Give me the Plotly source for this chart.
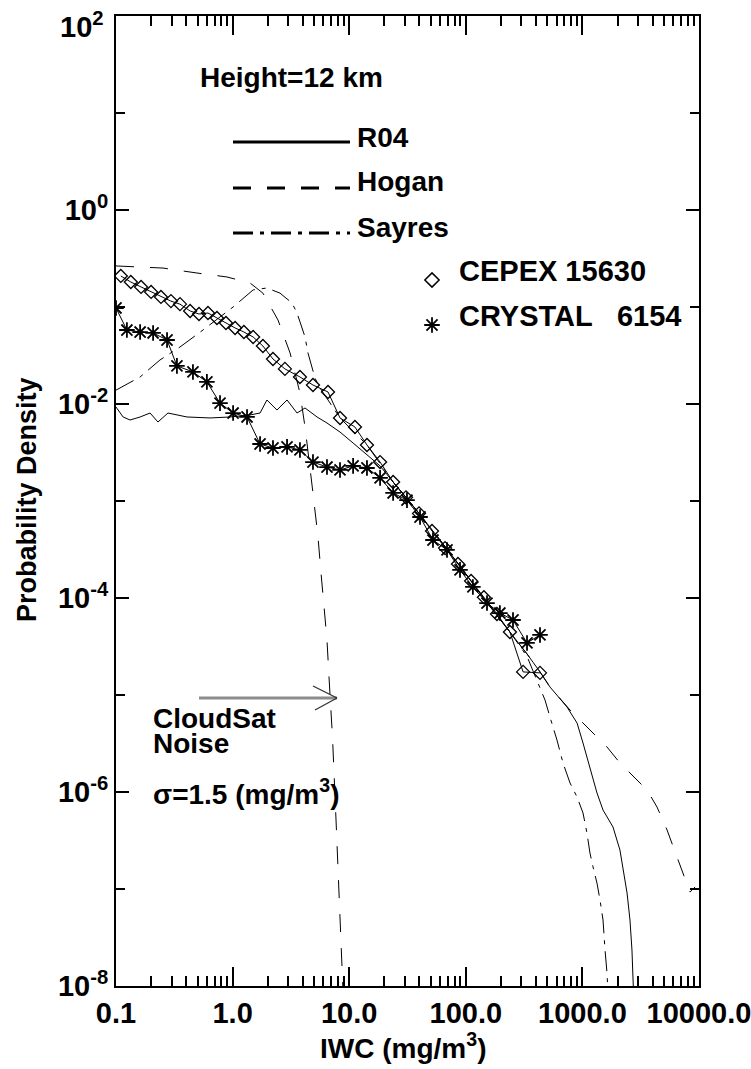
import plotly.graph_objects as go

# ---- probability density of ice water content at 12 km ----
# IWC in mg/m^3, probability density per curve

r04_iwc = [0.1, 0.115, 0.132, 0.161, 0.196, 0.229, 0.279, 0.406, 0.640, 0.951,
           1.41, 1.72, 1.97, 2.40, 2.93, 3.57, 4.18, 5.30, 6.45, 8.34,
           10.8, 14.2, 18.4, 23.8, 33.2, 52.3, 89.2, 146, 239, 335,
           433, 527, 738, 900, 1012, 1161, 1334, 1503, 1829, 2099,
           2228, 2415, 2559, 2661, 2750]
r04_pdf = [0.00931, 0.00735, 0.00684, 0.00735, 0.00807, 0.00652, 0.00807, 0.00735, 0.00718, 0.00735,
           0.00771, 0.00807, 0.0110, 0.00867, 0.0110, 0.00807, 0.00910, 0.00735, 0.00637, 0.00514,
           0.00396, 0.00298, 0.00230, 0.00157, 0.000977, 0.000491, 0.000214, 9.53e-5, 4.46e-5, 2.65e-5,
           1.73e-5, 1.21e-5, 7.52e-6, 5.14e-6, 3.20e-6, 1.81e-6, 9.77e-7, 6.52e-7, 4.36e-7, 2.52e-7,
           1.69e-7, 9.10e-8, 4.79e-8, 2.35e-8, 8e-9]

hogan_iwc = [23.8, 33.2, 52.3, 89.2, 146, 239, 335, 433, 527, 783,
             1233, 1626, 2099, 2938, 3581, 4365, 5321, 6471, 7889, 8375, 9247]
hogan_pdf = [0.00157, 0.000977, 0.000491, 0.000214, 9.53e-5, 4.46e-5, 2.65e-5, 1.73e-5, 1.21e-5, 7.00e-6,
             4.06e-6, 2.91e-6, 1.99e-6, 1.33e-6, 1.05e-6, 7.00e-7, 4.06e-7, 2.14e-7, 1.15e-7, 9.3e-8, 1.05e-7]

sayres_iwc = [0.1, 0.161, 0.238, 0.354, 0.557, 1.01, 1.50, 1.97, 2.55, 3.23,
              3.57, 4.18, 4.43, 4.80, 5.09, 5.62, 8.34, 14.2, 23.8, 33.2,
              52.3, 89.2, 146, 239, 335, 433, 478, 527, 605, 682,
              783, 900, 1012, 1094, 1161, 1233, 1334, 1416, 1503, 1563,
              1626, 1660]
sayres_pdf = [0.0139, 0.0190, 0.0284, 0.0387, 0.0579, 0.100, 0.150, 0.157, 0.139, 0.110,
              0.0867, 0.0491, 0.0336, 0.0241, 0.0185, 0.0146, 0.00718, 0.00378, 0.00157, 0.000977,
              0.000491, 0.000214, 9.53e-5, 4.46e-5, 2.5e-5, 1.18e-5, 8.87e-6, 5.93e-6, 3.44e-6, 1.99e-6,
              1.24e-6, 8.87e-7, 6.08e-7, 3.78e-7, 2.35e-7, 1.69e-7, 1.15e-7, 7.71e-8, 4.79e-8, 2.35e-8,
              1.36e-8, 8e-9]

noise_iwc = [0.1, 0.253, 0.495, 0.895, 1.41, 1.82, 2.45, 3.11, 3.78, 4.18,
             4.89, 5.40, 5.70, 6.08, 6.45, 6.71, 6.98, 7.19, 7.71, 8.18,
             8.51, 8.85, 9.02]
noise_pdf = [0.265, 0.252, 0.224, 0.204, 0.177, 0.139, 0.0735, 0.0336, 0.0130, 0.00579,
             0.00121, 0.000426, 0.000195, 8.87e-5, 3.69e-5, 1.53e-5, 7.52e-6, 3.69e-6, 5.14e-7, 1.05e-7,
             3.78e-8, 1.0e-8, 5e-9]

cepex_iwc = [0.110, 0.134, 0.164, 0.200, 0.243, 0.296, 0.354, 0.432, 0.515, 0.615,
             0.734, 0.877, 1.05, 1.25, 1.50, 1.82, 2.22, 2.81, 3.78, 4.89,
             6.58, 8.34, 11.2, 14.2, 18.4, 23.8, 30.7, 39.7, 51.3, 66.4,
             85.7, 111, 143, 185, 239, 310, 433]
cepex_pdf = [0.209, 0.181, 0.161, 0.143, 0.127, 0.115, 0.107, 0.0910, 0.0847, 0.0867,
             0.0771, 0.0684, 0.0608, 0.0552, 0.0491, 0.0396, 0.0291, 0.0230, 0.0190, 0.0157,
             0.0133, 0.00718, 0.00579, 0.00378, 0.00252, 0.00157, 0.00109, 0.000745, 0.000491, 0.000327,
             0.000224, 0.000150, 0.000102, 6.84e-5, 4.46e-5, 1.73e-5, 1.69e-5]

crystal_iwc = [0.1, 0.124, 0.161, 0.208, 0.274, 0.333, 0.457, 0.602, 0.780, 1.01,
               1.33, 1.72, 2.22, 2.93, 3.78, 4.89, 6.45, 8.34, 10.8, 14.2,
               18.4, 23.8, 31.3, 40.5, 52.3, 69.0, 89.2, 115, 152, 196,
               254, 335, 433]
crystal_pdf = [0.0977, 0.0579, 0.0552, 0.0540, 0.0457, 0.0247, 0.0214, 0.0169, 0.0102, 0.00807,
               0.00735, 0.00387, 0.00352, 0.00361, 0.00336, 0.00252, 0.00224, 0.00209, 0.00230, 0.00219,
               0.00173, 0.00121, 0.00102, 0.000684, 0.000396, 0.000313, 0.000195, 0.000130, 8.87e-5, 7.00e-5,
               5.93e-5, 3.44e-5, 4.16e-5]

x_major = [0.1, 1, 10, 100, 1000, 10000]
x_labels = ["0.1", "1.0", "10.0", "100.0", "1000.0", "10000.0"]
y_major = [1e-8, 1e-6, 1e-4, 1e-2, 1, 1e2]
# the topmost label sits flush with the frame, so it is set just inside the canvas below
y_labels = ["10<sup>-8</sup>", "10<sup>-6</sup>", "10<sup>-4</sup>", "10<sup>-2</sup>", "10<sup>0</sup>", ""]
y_top_label = "10<sup>2</sup>"

# ---- styling ----
W, H = 751, 1069
ML, MR, MT, MB = 116, 52, 16, 83
PW, PH = W - ML - MR, H - MT - MB
FONT = "Liberation Sans, Arial, Helvetica, sans-serif"
DASH = "18px,16px"
DASHDOT = "20px,7px,4px,7px"


def paper(px, py):
    """Convert a position on the canvas to paper fractions."""
    return (px - ML) / PW, (H - MB - py) / PH


x_minor = [m * 10 ** e for e in range(-1, 4) for m in range(2, 10)]
y_minor = [10.0 ** e for e in (-7, -5, -3, -1, 1)]

thin = dict(color="black", width=1)

fig = go.Figure()
fig.add_trace(go.Scatter(x=noise_iwc, y=noise_pdf, mode="lines",
                         line=dict(color="black", width=1, dash=DASH), name="CloudSat noise"))
fig.add_trace(go.Scatter(x=hogan_iwc, y=hogan_pdf, mode="lines",
                         line=dict(color="black", width=1, dash=DASH), name="Hogan"))
fig.add_trace(go.Scatter(x=sayres_iwc, y=sayres_pdf, mode="lines",
                         line=dict(color="black", width=1, dash=DASHDOT), name="Sayres"))
fig.add_trace(go.Scatter(x=r04_iwc, y=r04_pdf, mode="lines", line=thin, name="R04"))
fig.add_trace(go.Scatter(x=cepex_iwc, y=cepex_pdf, mode="lines+markers", line=thin,
                         marker=dict(symbol="diamond-open", size=10, color="black", line=dict(width=1.3)),
                         name="CEPEX 15630"))
fig.add_trace(go.Scatter(x=crystal_iwc, y=crystal_pdf, mode="lines+markers", line=thin,
                         marker=dict(symbol="asterisk-open", size=13, color="black", line=dict(width=1.8)),
                         name="CRYSTAL 6154"))

# legend symbols drawn on an invisible unit overlay
cx, cy1 = paper(432, 280)
_, cy2 = paper(432, 325)
fig.add_trace(go.Scatter(x=[cx], y=[cy1], xaxis="x2", yaxis="y2", mode="markers",
                         marker=dict(symbol="diamond-open", size=11, color="black", line=dict(width=1.5)),
                         hoverinfo="skip"))
fig.add_trace(go.Scatter(x=[cx], y=[cy2], xaxis="x2", yaxis="y2", mode="markers",
                         marker=dict(symbol="asterisk-open", size=13, color="black", line=dict(width=1.8)),
                         hoverinfo="skip"))

shapes = []
# legend line keys
for py, dash in ((142, "solid"), (188, DASH), (233, DASHDOT)):
    x0, y0 = paper(233, py)
    x1, _ = paper(350, py)
    shapes.append(dict(type="line", xref="paper", yref="paper", x0=x0, x1=x1, y0=y0, y1=y0,
                       line=dict(color="black", width=3, dash=dash)))
# noise arrow
a0 = paper(199, 698)
a1 = paper(337, 698)
shapes.append(dict(type="line", xref="paper", yref="paper", x0=a0[0], y0=a0[1], x1=a1[0], y1=a1[1],
                   line=dict(color="#8c8c8c", width=3)))
for hx, hy in ((313, 686), (315, 710)):
    h = paper(hx, hy)
    shapes.append(dict(type="line", xref="paper", yref="paper", x0=h[0], y0=h[1], x1=a1[0], y1=a1[1],
                       line=dict(color="#333333", width=1.3)))

annotations = []


def label(text, px, py, size=29, angle=0, anchor="left"):
    x, y = paper(px, py)
    annotations.append(dict(text=text, x=x, y=y, xref="paper", yref="paper", xanchor=anchor,
                            yanchor="middle", showarrow=False, textangle=angle,
                            font=dict(family=FONT, size=size, color="black", weight="bold")))


label("Height=12 km", 198, 77, 28)
label("R04", 355, 137, 28)
label("Hogan", 355, 182, 28)
label("Sayres", 355, 227, 28)
label("CEPEX 15630", 457, 271)
label("CRYSTAL\u00a0\u00a0\u00a06154", 457, 316)
label("CloudSat", 151, 718, 28)
label("Noise", 151, 743, 28)
label("\u03c3=1.5 (mg/m<sup>3</sup>)", 151, 792, 28)
label(y_top_label, 106, 25, 29, anchor="right")
# axis titles
label("IWC (mg/m<sup>3</sup>)", 403, 1046, 28, anchor="center")
label("Probability Density", 27, 500, 27, angle=-90, anchor="center")

axis_common = dict(type="log", showline=True, linewidth=2, linecolor="black", mirror="ticks",
                   ticks="inside", tickcolor="black", tickwidth=1.5, showgrid=False, zeroline=False,
                   automargin=False, ticklabeloverflow="allow",
                   tickfont=dict(family=FONT, size=29, color="black", weight="bold"))

fig.update_layout(
    width=W, height=H,
    margin=dict(l=ML, r=MR, t=MT, b=MB),
    plot_bgcolor="white", paper_bgcolor="white",
    showlegend=False,
    font=dict(family=FONT, color="black", weight="bold"),
    xaxis=dict(axis_common, range=[-1, 4], tickmode="array", tickvals=x_major, ticktext=x_labels,
               ticklen=19,
               minor=dict(tickmode="array", tickvals=x_minor, ticks="inside", ticklen=10,
                          tickwidth=1.5, tickcolor="black")),
    yaxis=dict(axis_common, range=[-8, 2], tickmode="array", tickvals=y_major, ticktext=y_labels,
               ticklen=13,
               minor=dict(tickmode="array", tickvals=y_minor, ticks="inside", ticklen=9,
                          tickwidth=1.5, tickcolor="black")),
    xaxis2=dict(overlaying="x", range=[0, 1], visible=False),
    yaxis2=dict(overlaying="y", range=[0, 1], visible=False),
    shapes=shapes,
    annotations=annotations,
)

fig.write_html("out.html")
